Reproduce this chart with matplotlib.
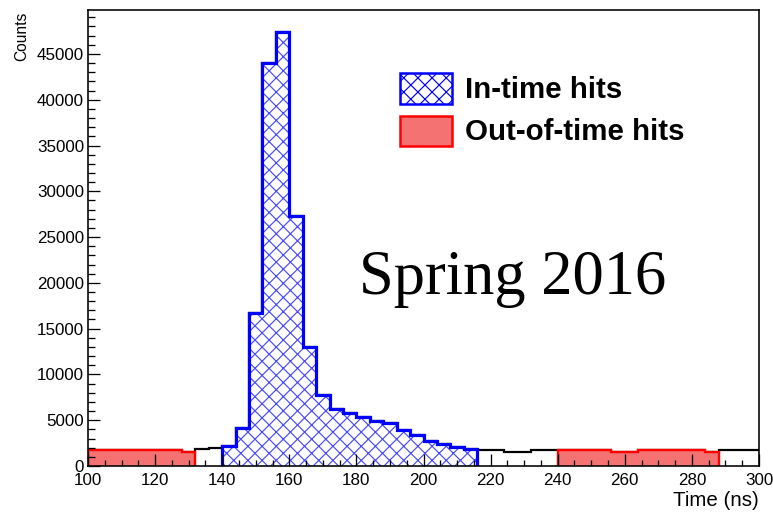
import numpy as np
import matplotlib
matplotlib.use("Agg")
import matplotlib.pyplot as plt
from matplotlib.patches import Rectangle
from matplotlib.ticker import MultipleLocator

# ---- data (4 ns bins from 100 to 300 ns) ----
bin_edges = list(range(100, 304, 4))
counts = [1700, 1700, 1700, 1700, 1700, 1700, 1700, 1580,   # 100-132
          1850, 2000,                                      # 132-140
          2180, 4150, 16700, 44000, 47400, 27300, 13050, 7800,
          6200, 5750, 5300, 4900, 4750, 3950, 3350, 2750, 2380,
          2050, 1850,                                      # 140-216
          1750, 1750, 1560, 1560, 1750, 1750,              # 216-240
          1750, 1750, 1750, 1750, 1560, 1560, 1750, 1750,
          1750, 1750, 1750, 1560,                          # 240-288
          1750, 1750, 1750]                                # 288-300
intime_range = (140, 216)
outtime_ranges = [(100, 132), (240, 288)]
legend_labels = ["In-time hits", "Out-of-time hits"]
annotation = "Spring 2016"
x_label = "Time (ns)"
y_label = "Counts"

DPI = 85
W, H = 773, 514
def pt(px):
    return px * 72.0 / DPI

plt.rcParams['font.family'] = ['Liberation Sans', 'DejaVu Sans']
plt.rcParams['hatch.linewidth'] = 1.0

fig = plt.figure(figsize=(W / DPI, H / DPI), dpi=DPI)
ax = fig.add_axes([88 / W, 48 / H, 671 / W, 456 / H])

edges = np.array(bin_edges, dtype=float)
vals = np.array(counts, dtype=float)

def sub(lo, hi):
    m = (edges[:-1] >= lo) & (edges[1:] <= hi)
    e = np.append(edges[:-1][m], edges[1:][m][-1])
    return vals[m], e

# full histogram outline (black)
ax.stairs(vals, edges, color='black', linewidth=pt(2.2), baseline=None, zorder=1.2)

# out-of-time (red)
for lo, hi in outtime_ranges:
    v, e = sub(lo, hi)
    ax.stairs(v, e, fill=True, facecolor='#f47272', edgecolor='none', zorder=1.3)
    ax.stairs(v, e, color='#ff0000', linewidth=pt(2.4), baseline=0, zorder=1.4)

# in-time (blue hatched)
v, e = sub(*intime_range)
ax.stairs(v, e, fill=True, facecolor='white', edgecolor='#4a4aff', hatch='xx',
          linewidth=0, zorder=1.3)
ax.stairs(v, e, color='#0000ff', linewidth=pt(3.2), baseline=0, zorder=1.4)

ax.set_xlim(100, 300)
ax.set_ylim(0, 49800)
ax.xaxis.set_major_locator(MultipleLocator(20))
ax.xaxis.set_minor_locator(MultipleLocator(5))
ax.yaxis.set_major_locator(MultipleLocator(5000))
ax.yaxis.set_minor_locator(MultipleLocator(1000))
ax.tick_params(which='both', direction='in', top=False, right=False,
               width=pt(1.3), color='black')
ax.tick_params(which='major', length=pt(12), labelsize=pt(17))
ax.tick_params(which='minor', length=pt(6.5))
ax.tick_params(axis='x', which='major', pad=pt(7))
ax.tick_params(axis='y', which='major', pad=pt(4))
for s in ax.spines.values():
    s.set_linewidth(pt(1.6))
    s.set_color('black')
    s.set_zorder(3)

ax.set_xlabel(x_label, fontsize=pt(20.5), loc='right')
ax.xaxis.set_label_coords(1.0, -0.055)
ax.set_ylabel(y_label, fontsize=pt(15.5), loc='top')
ax.yaxis.set_label_coords(-0.087, 0.996)

# legend (drawn manually)
fig.patches.append(Rectangle((400 / W, (H - 104) / H), 52 / W, 31 / H,
                             transform=fig.transFigure, facecolor='white',
                             edgecolor='#0000ff', hatch='xx', linewidth=pt(2.5)))
fig.patches.append(Rectangle((400 / W, (H - 146) / H), 52 / W, 30 / H,
                             transform=fig.transFigure, facecolor='#f47272',
                             edgecolor='#ff0000', linewidth=pt(2.5)))
fig.text(465 / W, (H - 97.5) / H, legend_labels[0], fontsize=pt(29.5),
         fontweight='bold', ha='left', va='baseline')
fig.text(465 / W, (H - 139.5) / H, legend_labels[1], fontsize=pt(29.5),
         fontweight='bold', ha='left', va='baseline')

fig.text(359 / W, (H - 294) / H, annotation, fontsize=pt(62.5),
         family=['Liberation Serif', 'DejaVu Serif'], ha='left', va='baseline')

fig.savefig("out.png", dpi=DPI)
